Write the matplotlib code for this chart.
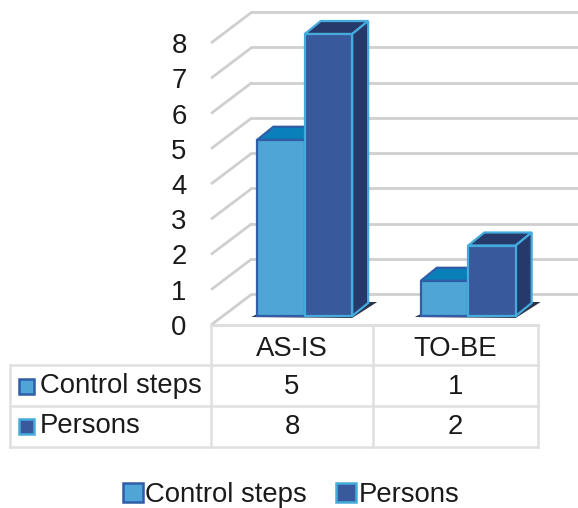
import matplotlib
matplotlib.use('Agg')
import matplotlib.pyplot as plt
from matplotlib.patches import Patch, Polygon, Rectangle
from matplotlib.lines import Line2D
from matplotlib.transforms import Affine2D

categories = ['AS-IS', 'TO-BE']
control_steps = [5, 1]
persons = [8, 2]
yticks = [0, 1, 2, 3, 4, 5, 6, 7, 8]

W, H = 578, 508
plt.rcParams['font.family'] = ['Liberation Sans', 'DejaVu Sans']
FS = 19.8
TXT = '#1a1a1a'
GRID = '#cfcfcf'
TABLE = '#e0e0e0'
C_FACE, C_EDGE, C_TOP = '#4fa6d6', '#2f5da8', '#0a80ba'
P_FACE, P_EDGE, P_TOP = '#38599b', '#45abdd', '#253a6b'


def fx(x):
    return x / W


def fy(y):
    return 1 - y / H


fig = plt.figure(figsize=(W / 100, H / 100), dpi=100)
# front plane of the chart box, 0 to 8
ax = fig.add_axes([fx(211), fy(325), fx(538) - fx(211), fy(43) - fy(325)])
ax.set_xlim(-0.5, 1.5)
ax.set_ylim(0, 8)
for s in ax.spines.values():
    s.set_visible(False)
ax.set_xticks([])
ax.set_yticks(yticks)
ax.tick_params(axis='y', length=0, pad=17.5, labelsize=FS, labelcolor=TXT)
ax.patch.set_alpha(0)

# fake 3d: pixel offsets on top of the data transform
wall = ax.transData + Affine2D().translate(41, 31)
bar_tr = ax.transData + Affine2D().translate(12, 9)
dx, dy = 16, 13

for v in yticks:
    ax.add_line(Line2D([-0.5, 1.5 + 40 / 163.5], [v, v], color=GRID, lw=2.0, transform=wall, clip_on=False, zorder=1))
    ax.add_patch(Polygon([[0, 0], [41, 31]], closed=False, fill=False, ec=GRID, lw=2.0, zorder=1, clip_on=False,
                         transform=Affine2D().translate(*ax.transData.transform((-0.5, v)))))

# floor front edge
ax.add_line(Line2D([-0.5, 1.5], [0, 0], color=GRID, lw=2.0, clip_on=False, zorder=1))

width = 0.29


def draw_bar(x0, v, face, edge, top, zo):
    x1 = x0 + width
    base = bar_tr.transform((x1, 0))
    ax.bar(x0, v, width, align='edge', color=face, edgecolor=edge, linewidth=1.6, transform=bar_tr, zorder=zo + 1,
           clip_on=False)
    pts = [bar_tr.transform(p) for p in [(x0, v), (x1, v)]]
    ax.add_patch(Polygon([pts[0], pts[1], pts[1] + [dx, dy], pts[0] + [dx, dy]], closed=True, fc=top, ec=edge, lw=1.6,
                         transform=Affine2D(), zorder=zo, clip_on=False))
    return base, pts[1]


for i in range(len(categories)):
    x_c = i - width
    b0 = bar_tr.transform((x_c, 0))
    b1 = bar_tr.transform((i + width, 0))
    # dark shadow under each bar pair
    ax.add_patch(Polygon([b0 + [-6, -1], b1 + [0, -2], b1 + [25, 14], b1 + [12, 14], b0 + [2, 3]], closed=True,
                         fc='#2b3348', ec='none', transform=Affine2D(), zorder=2, clip_on=False))
    draw_bar(x_c, control_steps[i], C_FACE, C_EDGE, C_TOP, 3)
    base, tr = draw_bar(i, persons[i], P_FACE, P_EDGE, P_TOP, 6)
    ax.add_patch(Polygon([base, base + [dx, dy], tr + [dx, dy], tr], closed=True, fc=P_TOP, ec=P_EDGE, lw=1.6,
                         transform=Affine2D(), zorder=6, clip_on=False))

# data table under the chart
col_x = [211, 373, 538]
row_y = [325, 365, 406, 447]
left = 10
for xv in col_x:
    fig.add_artist(Line2D([fx(xv), fx(xv)], [fy(row_y[0]), fy(row_y[3])], color=TABLE, lw=1.8))
fig.add_artist(Line2D([fx(left), fx(left)], [fy(row_y[1]), fy(row_y[3])], color=TABLE, lw=1.8))
for k, yv in enumerate(row_y):
    fig.add_artist(Line2D([fx(left if k else 211), fx(538)], [fy(yv), fy(yv)], color=TABLE, lw=1.8))

for i, c in enumerate(categories):
    xm = (col_x[i] + col_x[i + 1]) / 2
    fig.text(fx(xm), fy(349), c, ha='center', va='center', fontsize=FS, color=TXT)
    fig.text(fx(xm), fy(387), str(control_steps[i]), ha='center', va='center', fontsize=FS, color=TXT)
    fig.text(fx(xm), fy(427), str(persons[i]), ha='center', va='center', fontsize=FS, color=TXT)

names = ['Control steps', 'Persons']
rows = [(386, C_FACE, C_EDGE), (426, P_FACE, P_EDGE)]
for name, (yv, f, e) in zip(names, rows):
    fig.add_artist(Rectangle((fx(19), fy(yv + 8)), 15 / W, 15 / H, transform=fig.transFigure, fc=f, ec=e, lw=1.8))
    fig.text(fx(40), fy(yv), name, ha='left', va='center', fontsize=FS, color=TXT)

handles = [Patch(fc=C_FACE, ec=C_EDGE, lw=1.8, label=names[0]), Patch(fc=P_FACE, ec=P_EDGE, lw=1.8, label=names[1])]
fig.legend(handles=handles, loc='center', bbox_to_anchor=(fx(291), fy(495)), ncol=2, frameon=False, fontsize=FS,
           labelcolor=TXT, handlelength=0.72, handleheight=0.72, handletextpad=0.1, columnspacing=1.05, borderpad=0)

fig.savefig('out.png', dpi=100)
